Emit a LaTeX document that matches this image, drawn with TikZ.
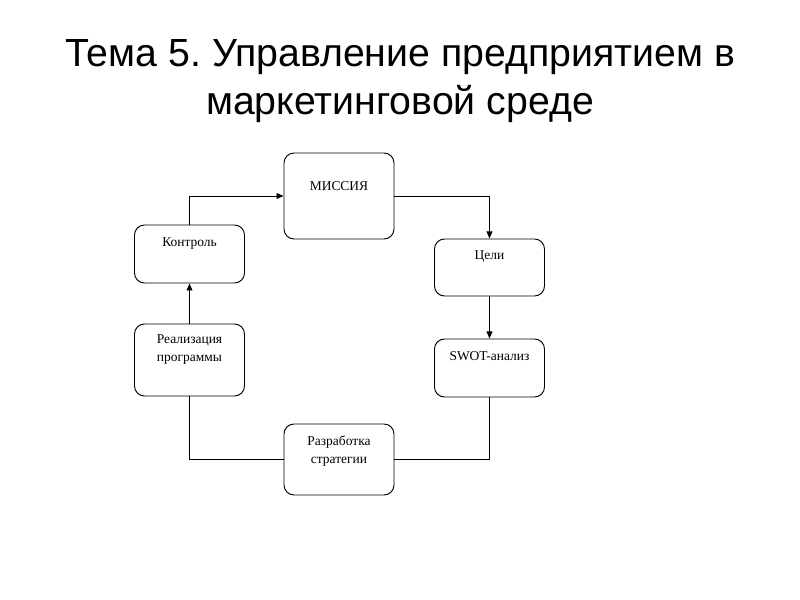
\documentclass[tikz,border=0pt]{standalone}
\usepackage{fontspec}
\setmainfont{Liberation Serif}
\newfontfamily\titlefont{Liberation Sans}
\usetikzlibrary{arrows.meta}
\frenchspacing

\tikzset{
  stage/.style={draw, line width=0.8pt, rounded corners=0.3cm, minimum width=3.3cm},
  stagetext/.style={font=\fontsize{11.5}{15.3}\selectfont, align=center, anchor=center, inner sep=0pt},
  flow/.style={line width=0.8pt, -{Triangle[length=6pt,width=5pt]}},
  link/.style={line width=0.8pt}
}

\begin{document}
\begin{tikzpicture}[x=0.03cm, y=-0.03cm, line join=miter]
\useasboundingbox (0,0) rectangle (800,600);

% title
\node[font=\titlefont\fontsize{33.5}{41.6}\selectfont, align=center, anchor=base] (title) at (400,115)
  {Тема 5. Управление предприятием в\\маркетинговой среде};

% stages of the cycle
\node[stage, minimum height=2.58cm, label={[stagetext, yshift=-1.01cm]north:МИССИЯ}] (mission) at (339,196) {};
\node[stage, minimum height=1.71cm, label={[stagetext, yshift=-0.54cm]north:Цели}] (goals) at (489.5,267.5) {};
\node[stage, minimum height=1.74cm, label={[stagetext, yshift=-0.52cm]north:SWOT-анализ}] (swot) at (489.5,368) {};
\node[stage, minimum height=2.13cm, label={[stagetext, yshift=-0.82cm]north:Разработка\\стратегии}] (strategy) at (339,459.5) {};
\node[stage, minimum height=2.16cm, label={[stagetext, yshift=-0.78cm]north:Реализация\\программы}] (program) at (189.5,360) {};
\node[stage, minimum height=1.74cm, label={[stagetext, yshift=-0.56cm]north:Контроль}] (control) at (189.5,254) {};

% connectors
\draw[flow] (mission.east) -| (goals.north);
\draw[flow] (goals.south) -- (swot.north);
\draw[link] (swot.south) |- (strategy.east);
\draw[link] (strategy.west) -| (program.south);
\draw[flow] (program.north) -- (control.south);
\draw[flow] (control.north) |- (mission.west);

\end{tikzpicture}
\end{document}
